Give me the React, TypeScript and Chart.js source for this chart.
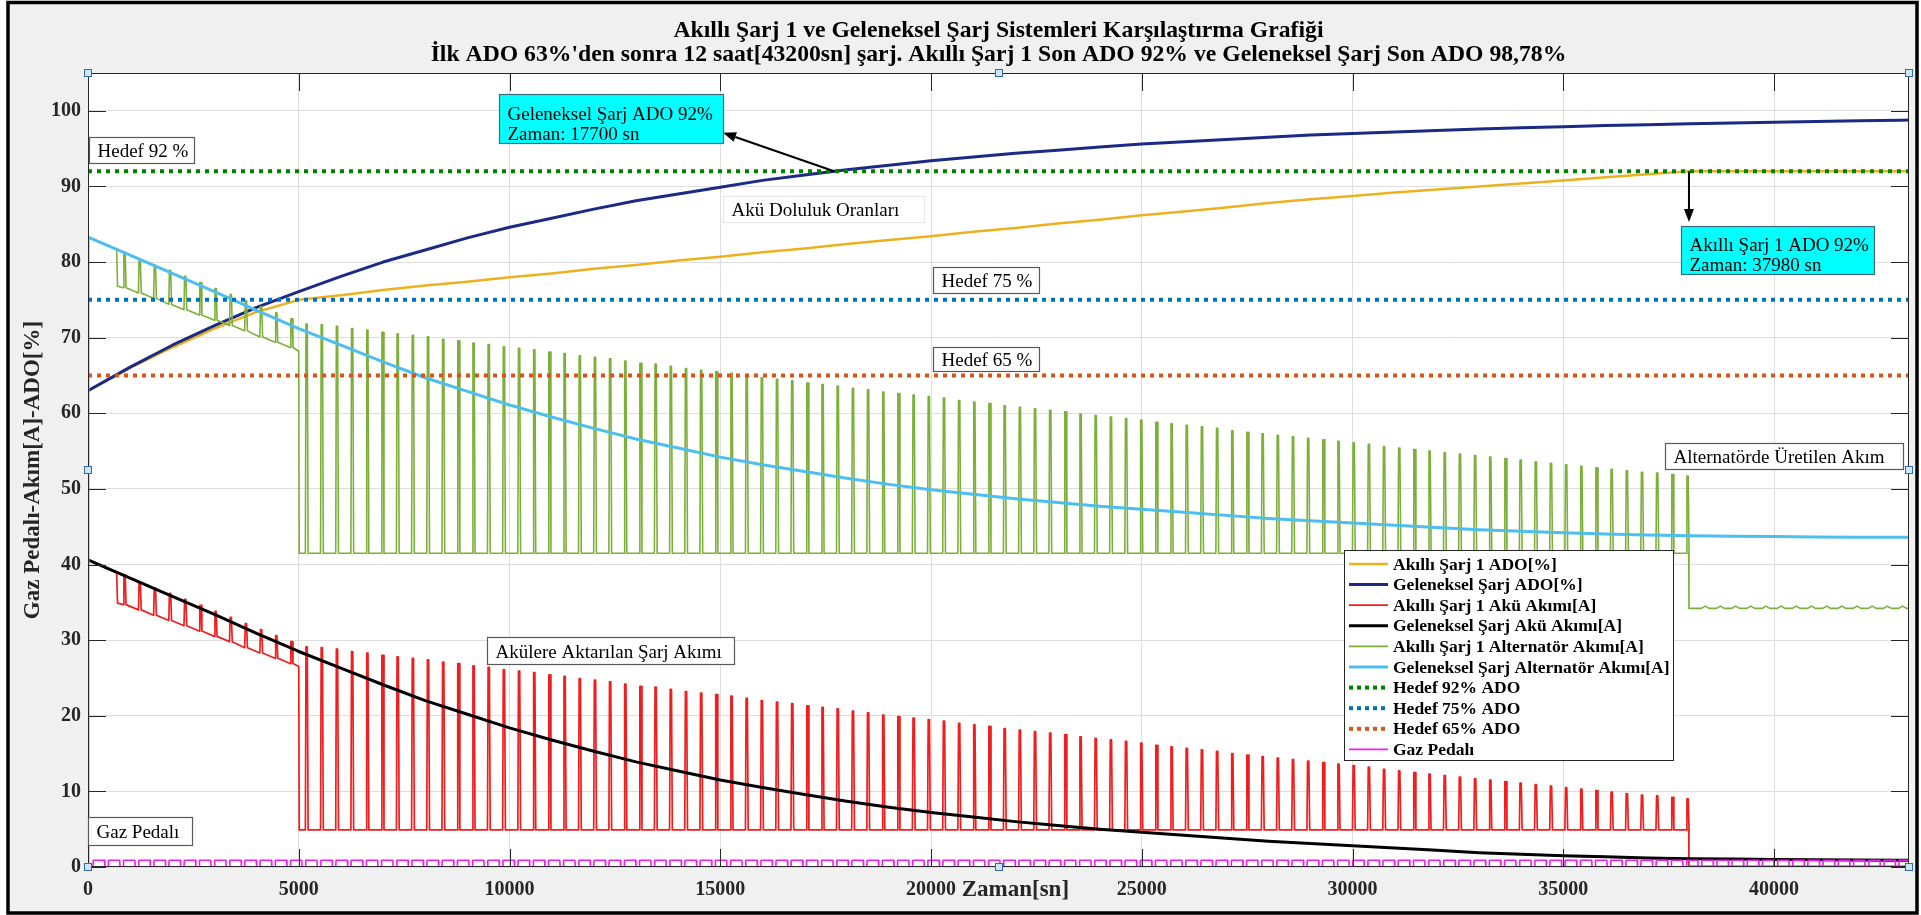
import { useEffect, useRef } from 'react';
import { Chart, registerables } from 'chart.js';

Chart.register(...registerables);

const SERIF = '"Liberation Serif", "Times New Roman", Times, serif';

// ---- axes ----
const xTickValues = [0, 5000, 10000, 15000, 20000, 25000, 30000, 35000, 40000];
const yTickValues = [0, 10, 20, 30, 40, 50, 60, 70, 80, 90, 100];
const X_MAX = 43200;
const Y_MAX = 105;

// ---- smooth curves, sampled every 1000 s ----
const sampleTimes = [
  0, 1000, 2000, 3000, 4000, 5000, 6000, 7000, 8000, 9000, 10000, 11000, 12000, 13000, 14000,
  15000, 16000, 17000, 18000, 19000, 20000, 21000, 22000, 23000, 24000, 25000, 26000, 27000,
  28000, 29000, 30000, 31000, 32000, 33000, 34000, 35000, 36000, 37000, 38000, 39000, 40000,
  41000, 42000, 43000, 43200,
];
// Geleneksel Şarj ADO [%]
const convSoc = [
  63.0, 66.1, 69.0, 71.6, 74.0, 76.1, 78.1, 80.0, 81.6, 83.2, 84.6, 85.8, 87.0, 88.1, 89.0,
  89.9, 90.8, 91.5, 92.2, 92.8, 93.4, 93.9, 94.4, 94.8, 95.2, 95.6, 95.9, 96.2,
  96.5, 96.8, 97.0, 97.2, 97.4, 97.6, 97.75, 97.9, 98.05, 98.15, 98.3, 98.4, 98.5,
  98.6, 98.7, 98.75, 98.78,
];
// Geleneksel Şarj Akü Akımı [A]
const convBatteryCurrent = [
  40.6, 38.2, 35.8, 33.4, 30.9, 28.5, 26.3, 24.1, 22.0, 20.2, 18.4, 16.8, 15.3, 13.9, 12.7,
  11.5, 10.5, 9.6, 8.7, 7.9, 7.2, 6.6, 6.0, 5.5, 5.0, 4.6, 4.2, 3.8,
  3.4, 3.1, 2.8, 2.5, 2.2, 1.9, 1.7, 1.5, 1.35, 1.2, 1.1, 1.05, 1.0,
  0.95, 0.92, 0.9, 0.9,
];
// Geleneksel Şarj Alternatör Akımı [A]
const convAlternatorCurrent = [
  83.3, 80.9, 78.5, 76.1, 73.6, 71.2, 69.0, 66.8, 64.7, 62.9, 61.1, 59.5, 58.0, 56.6, 55.4,
  54.2, 53.2, 52.3, 51.4, 50.6, 49.9, 49.3, 48.7, 48.2, 47.7, 47.3, 46.9, 46.5,
  46.1, 45.8, 45.5, 45.2, 44.9, 44.6, 44.4, 44.2, 44.05, 43.9, 43.8, 43.75, 43.7,
  43.65, 43.62, 43.6, 43.6,
];
// Akıllı Şarj 1 ADO [%]
const smartSocTimes = [
  0, 1000, 2000, 3000, 4000, 5000, 6000, 7000, 8000, 9000, 10000, 11000, 12000, 13000, 14000,
  15000, 16000, 17000, 18000, 19000, 20000, 21000, 22000, 23000, 24000, 25000, 26000, 27000,
  28000, 29000, 30000, 31000, 32000, 33000, 34000, 35000, 36000, 37000, 37980, 39000, 40000,
  41000, 42000, 43000, 43200,
];
const smartSoc = [
  63.0, 66.0, 68.7, 71.2, 73.4, 75.0, 75.6, 76.3, 76.9, 77.4, 78.0, 78.5, 79.1, 79.6, 80.2,
  80.7, 81.3, 81.8, 82.4, 82.9, 83.4, 84.0, 84.5, 85.1, 85.6, 86.2, 86.7, 87.2,
  87.8, 88.3, 88.75, 89.2, 89.6, 90.0, 90.4, 90.8, 91.2, 91.6, 92.0, 92.0, 92.0,
  92.0, 92.0, 92.0, 92.0,
];

// ---- smart charger duty cycle ----
const CYCLE_PERIOD_S = 360;
const FIRST_CYCLE_S = 837;
const PHASE2_START_S = 5000;
const SMART_STOP_S = 37980;
const leadTimes = [0, 680, 700];

// Akıllı Şarj 1 Akü Akımı [A]
const smartBattLead = [40.6, 38.9, 34.9];
const smartBattBase1 = [34.7, 34.0, 33.3, 32.6, 31.9, 31.2, 30.5, 29.8, 29.0, 28.3, 27.6, 26.9];
const smartBattPeak1 = [38.6, 37.7, 36.9, 36.2, 35.4, 34.6, 33.8, 33.0, 32.2, 31.4, 30.6, 29.8];
const smartBattPhase1End = 26.5;
const smartBattBase2 = 4.9;
const smartBattPeak2 = [
  29.1, 29.0, 28.8, 28.5, 28.3, 28.0, 27.8, 27.6, 27.4, 27.1,
  26.9, 26.6, 26.4, 26.1, 25.9, 25.7, 25.4, 25.2, 24.9, 24.7,
  24.5, 24.2, 23.9, 23.8, 23.5, 23.2, 23.0, 22.8, 22.6, 22.3,
  22.0, 21.8, 21.6, 21.3, 21.1, 20.9, 20.6, 20.4, 20.1, 19.9,
  19.7, 19.5, 19.3, 19.0, 18.8, 18.6, 18.3, 18.1, 17.9, 17.7,
  17.5, 17.2, 17.0, 16.8, 16.6, 16.4, 16.1, 15.9, 15.7, 15.5,
  15.3, 15.0, 14.8, 14.6, 14.4, 14.2, 14.0, 13.8, 13.6, 13.4,
  13.2, 12.9, 12.7, 12.5, 12.3, 12.1, 11.9, 11.7, 11.5, 11.3,
  11.1, 10.9, 10.7, 10.5, 10.3, 10.1, 9.9, 9.7, 9.5, 9.4,
  9.2, 9.0,
];
const smartBattIdle = [0.1];

// Akıllı Şarj 1 Alternatör Akımı [A]
const smartAltLead = [83.3, 81.7, 76.8];
const smartAltBase1 = [76.6, 75.9, 75.2, 74.4, 73.7, 73.0, 72.3, 71.6, 70.9, 70.1, 69.4, 68.7];
const smartAltPeak1 = [81.3, 80.4, 79.6, 78.9, 78.1, 77.3, 76.5, 75.7, 74.9, 74.1, 73.3, 72.5];
const smartAltPhase1End = 68.2;
const smartAltBase2 = 41.5;
const smartAltPeak2 = [
  71.8, 71.7, 71.5, 71.2, 71.0, 70.7, 70.5, 70.3, 70.1, 69.8,
  69.6, 69.3, 69.1, 68.8, 68.6, 68.4, 68.1, 67.9, 67.6, 67.4,
  67.2, 66.9, 66.6, 66.5, 66.2, 65.9, 65.7, 65.5, 65.3, 65.0,
  64.7, 64.5, 64.3, 64.0, 63.8, 63.6, 63.3, 63.1, 62.8, 62.6,
  62.4, 62.2, 62.0, 61.7, 61.5, 61.3, 61.0, 60.8, 60.6, 60.4,
  60.2, 59.9, 59.7, 59.5, 59.3, 59.1, 58.8, 58.6, 58.4, 58.2,
  58.0, 57.7, 57.5, 57.3, 57.1, 56.9, 56.7, 56.5, 56.3, 56.1,
  55.9, 55.6, 55.4, 55.2, 55.0, 54.8, 54.6, 54.4, 54.2, 54.0,
  53.8, 53.6, 53.4, 53.2, 53.0, 52.8, 52.6, 52.4, 52.2, 52.1,
  51.9, 51.7,
];
const smartAltIdle = [34.2, 34.5];

// Gaz Pedalı
const GAS_ON = 0.9;
const GAS_OFF = 0;

// Hedef ADO levels [%]
const targetLevels = [92, 75, 65];

type Pt = { x: number; y: number };

const zipPoints = (xs: number[], ys: number[]): Pt[] => xs.map((x, i) => ({ x, y: ys[i] }));

// pulse shape inside one cycle: rise, hold, fall (seconds after cycle start)
const PULSE = [15, 45, 65];

function pulseTrain(
  lead: number[], base1: number[], peak1: number[], phase1End: number,
  base2: number, peak2: number[], idle: number[],
): Pt[] {
  const pts: Pt[] = zipPoints(leadTimes, lead);
  base1.forEach((b, k) => {
    const t = FIRST_CYCLE_S + k * CYCLE_PERIOD_S;
    pts.push({ x: t, y: b }, { x: t + PULSE[0], y: peak1[k] }, { x: t + PULSE[1], y: peak1[k] }, { x: t + PULSE[2], y: b });
  });
  pts.push({ x: PHASE2_START_S, y: phase1End }, { x: PHASE2_START_S + 10, y: base2 });
  peak2.forEach((p, j) => {
    const t = FIRST_CYCLE_S + (base1.length + j) * CYCLE_PERIOD_S;
    pts.push({ x: t, y: base2 }, { x: t + PULSE[0], y: p }, { x: t + PULSE[1], y: p }, { x: t + PULSE[2], y: base2 });
  });
  pts.push({ x: SMART_STOP_S - 5, y: base2 }, { x: SMART_STOP_S, y: idle[0] });
  for (let k = base1.length + peak2.length; ; k++) {
    const t = FIRST_CYCLE_S + k * CYCLE_PERIOD_S;
    if (t + 180 >= X_MAX) break;
    if (idle.length > 1) pts.push({ x: t, y: idle[0] }, { x: t + 90, y: idle[1] }, { x: t + 180, y: idle[0] });
  }
  pts.push({ x: X_MAX, y: idle[0] });
  return pts;
}

// pedal released for a short moment at the start of every cycle
const GAS_RELEASE_S = 85;

function gasPedal(): Pt[] {
  const pts: Pt[] = [{ x: 0, y: GAS_OFF }];
  for (let k = -2; ; k++) {
    const t = FIRST_CYCLE_S + k * CYCLE_PERIOD_S;
    if (t >= X_MAX) break;
    const next = t + CYCLE_PERIOD_S;
    pts.push({ x: t, y: GAS_OFF }, { x: t + 8, y: GAS_ON });
    if (next - GAS_RELEASE_S < X_MAX) {
      pts.push({ x: next - GAS_RELEASE_S, y: GAS_ON }, { x: next - GAS_RELEASE_S + 8, y: GAS_OFF });
    } else {
      pts.push({ x: X_MAX, y: GAS_ON });
    }
  }
  return pts;
}

const line = (label: string, data: Pt[], color: string, width: number, extra: Record<string, unknown> = {}) => ({
  label, data, borderColor: color, backgroundColor: color, borderWidth: width,
  pointRadius: 0, fill: false, tension: 0, borderJoinStyle: 'round', ...extra,
});

const targetLine = (level: number, color: string, label: string) =>
  line(label, [{ x: 0, y: level }, { x: X_MAX, y: level }], color, 4, { borderDash: [4, 5], borderCapStyle: 'butt' });

const datasets = [
  line('Akıllı Şarj 1 ADO[%]', zipPoints(smartSocTimes, smartSoc), '#EDB120', 2.5),
  line('Geleneksel Şarj ADO[%]', zipPoints(sampleTimes, convSoc), '#1B2A84', 3),
  line('Akıllı Şarj 1 Akü Akımı[A]',
    pulseTrain(smartBattLead, smartBattBase1, smartBattPeak1, smartBattPhase1End, smartBattBase2, smartBattPeak2, smartBattIdle),
    '#F01E1E', 1.7),
  line('Geleneksel Şarj Akü Akımı[A]', zipPoints(sampleTimes, convBatteryCurrent), '#000000', 3),
  line('Akıllı Şarj 1 Alternatör Akımı[A]',
    pulseTrain(smartAltLead, smartAltBase1, smartAltPeak1, smartAltPhase1End, smartAltBase2, smartAltPeak2, smartAltIdle),
    '#7DB03A', 1.6),
  line('Geleneksel Şarj Alternatör Akımı[A]', [{ x: 0, y: 0 }, ...zipPoints(sampleTimes, convAlternatorCurrent)], '#4DBEEE', 3),
  targetLine(targetLevels[0], '#008000', 'Hedef 92% ADO'),
  targetLine(targetLevels[1], '#0072BD', 'Hedef 75% ADO'),
  targetLine(targetLevels[2], '#D95319', 'Hedef 65% ADO'),
  line('Gaz Pedalı', gasPedal(), '#F21CF2', 1.6),
].map((d, i) => ({ ...d, order: -i }));

const titleLines = [
  'Akıllı Şarj 1 ve Geleneksel Şarj Sistemleri Karşılaştırma Grafiği',
  "İlk ADO 63%'den sonra 12 saat[43200sn] şarj. Akıllı Şarj 1 Son ADO 92% ve Geleneksel Şarj Son ADO 98,78%",
];
const xTitle = 'Zaman[sn]';
const yTitle = 'Gaz Pedalı-Akım[A]-ADO[%]';

// text boxes placed in data units (x: s, y: value)
const noteBoxes = [
  { lines: ['Hedef 92 %'], x0: 24, x1: 2515, yTop: 96.6, yBot: 93.1, fill: '#ffffff', edge: '#595959' },
  { lines: ['Geleneksel Şarj ADO 92%', 'Zaman: 17700 sn'], x0: 9750, x1: 15065, yTop: 102.2, yBot: 95.8, fill: '#00FFFF', edge: '#3d6b78' },
  { lines: ['Akıllı Şarj 1 ADO 92%', 'Zaman: 37980 sn'], x0: 37790, x1: 42370, yTop: 84.8, yBot: 78.4, fill: '#00FFFF', edge: '#3d6b78' },
  { lines: ['Akü Doluluk Oranları'], x0: 15065, x1: 19830, yTop: 88.8, yBot: 85.3, fill: '#ffffff', edge: '#e6e6e6' },
  { lines: ['Hedef 75 %'], x0: 20046, x1: 22560, yTop: 79.4, yBot: 75.9, fill: '#ffffff', edge: '#595959' },
  { lines: ['Hedef 65 %'], x0: 20046, x1: 22560, yTop: 68.8, yBot: 65.6, fill: '#ffffff', edge: '#595959' },
  { lines: ['Akülere Aktarılan Şarj Akımı'], x0: 9465, x1: 15325, yTop: 30.4, yBot: 26.85, fill: '#ffffff', edge: '#595959' },
  { lines: ['Alternatörde Üretilen Akım'], x0: 37410, x1: 43060, yTop: 56.1, yBot: 52.6, fill: '#ffffff', edge: '#595959' },
  { lines: ['Gaz Pedalı'], x0: 0, x1: 2467, yTop: 6.6, yBot: 2.9, fill: '#ffffff', edge: '#595959' },
];
const noteArrows = [
  { from: [17700, 92], to: [15065, 97.1] },
  { from: [37980, 92], to: [37980, 85.3] },
];

const FRAME = { left: 8, top: 2.5, right: 1917, bottom: 913 };

function drawArrow(ctx: CanvasRenderingContext2D, x1: number, y1: number, x2: number, y2: number) {
  const ang = Math.atan2(y2 - y1, x2 - x1);
  const len = 13;
  const half = 5;
  const bx = x2 - len * Math.cos(ang);
  const by = y2 - len * Math.sin(ang);
  ctx.strokeStyle = '#000';
  ctx.lineWidth = 2;
  ctx.beginPath();
  ctx.moveTo(x1, y1);
  ctx.lineTo(bx, by);
  ctx.stroke();
  ctx.fillStyle = '#000';
  ctx.beginPath();
  ctx.moveTo(x2, y2);
  ctx.lineTo(bx + half * Math.sin(ang), by - half * Math.cos(ang));
  ctx.lineTo(bx - half * Math.sin(ang), by + half * Math.cos(ang));
  ctx.closePath();
  ctx.fill();
}

const decorations = {
  id: 'decorations',
  beforeDraw(chart: any) {
    const { ctx, chartArea: a, width, height } = chart;
    ctx.save();
    ctx.fillStyle = '#ffffff';
    ctx.fillRect(0, 0, width, height);
    ctx.fillStyle = '#f0f0f0';
    ctx.fillRect(FRAME.left, FRAME.top, FRAME.right - FRAME.left, FRAME.bottom - FRAME.top);
    ctx.fillStyle = '#ffffff';
    ctx.fillRect(a.left, a.top, a.right - a.left, a.bottom - a.top);
    ctx.restore();
  },
  afterDatasetsDraw(chart: any) {
    const { ctx, chartArea: a } = chart;
    const xs = chart.scales.x;
    const ys = chart.scales.y;
    ctx.save();

    // axes box and inward tick marks
    ctx.strokeStyle = '#262626';
    ctx.lineWidth = 1;
    ctx.strokeRect(a.left + 0.5, a.top + 0.5, a.right - a.left - 1, a.bottom - a.top - 1);
    const TL = 18;
    ctx.beginPath();
    xTickValues.forEach((v) => {
      const px = Math.round(xs.getPixelForValue(v)) + 0.5;
      ctx.moveTo(px, a.bottom); ctx.lineTo(px, a.bottom - TL);
      ctx.moveTo(px, a.top); ctx.lineTo(px, a.top + TL);
    });
    yTickValues.forEach((v) => {
      const py = Math.round(ys.getPixelForValue(v)) + 0.5;
      ctx.moveTo(a.left, py); ctx.lineTo(a.left + TL, py);
      ctx.moveTo(a.right, py); ctx.lineTo(a.right - TL, py);
    });
    ctx.stroke();

    // arrows
    noteArrows.forEach((ar) => {
      drawArrow(ctx, xs.getPixelForValue(ar.from[0]), ys.getPixelForValue(ar.from[1]),
        xs.getPixelForValue(ar.to[0]), ys.getPixelForValue(ar.to[1]));
    });

    // text boxes
    ctx.font = `19px ${SERIF}`;
    ctx.textAlign = 'left';
    ctx.textBaseline = 'alphabetic';
    noteBoxes.forEach((b) => {
      const x0 = Math.round(xs.getPixelForValue(b.x0)) + 0.5;
      const x1 = Math.round(xs.getPixelForValue(b.x1)) + 0.5;
      const y0 = Math.round(ys.getPixelForValue(b.yTop)) + 0.5;
      const y1 = Math.round(ys.getPixelForValue(b.yBot)) + 0.5;
      ctx.fillStyle = b.fill;
      ctx.fillRect(x0, y0, x1 - x0, y1 - y0);
      ctx.strokeStyle = b.edge;
      ctx.lineWidth = 1.2;
      ctx.strokeRect(x0, y0, x1 - x0, y1 - y0);
      ctx.fillStyle = '#000';
      if (b.lines.length === 1) {
        ctx.fillText(b.lines[0], x0 + 8, (y0 + y1) / 2 + 6.5);
      } else {
        b.lines.forEach((t, i) => {
          ctx.fillText(t, x0 + 8, y1 - 4 - (b.lines.length - 1 - i) * 19.5);
        });
      }
    });

    // legend
    const L = { left: 1344, top: 550, right: 1673, bottom: 760, row0: 564, rowStep: 20.6 };
    ctx.fillStyle = '#ffffff';
    ctx.fillRect(L.left, L.top, L.right - L.left, L.bottom - L.top);
    ctx.strokeStyle = '#262626';
    ctx.lineWidth = 1;
    ctx.strokeRect(L.left + 0.5, L.top + 0.5, L.right - L.left, L.bottom - L.top);
    ctx.font = `bold 17.5px ${SERIF}`;
    ctx.textBaseline = 'middle';
    chart.data.datasets.forEach((d: any, i: number) => {
      const y = L.row0 + i * L.rowStep;
      ctx.save();
      ctx.strokeStyle = d.borderColor;
      ctx.lineWidth = d.borderDash ? 4 : Math.min(d.borderWidth, 3);
      ctx.setLineDash(d.borderDash ? [4, 4] : []);
      ctx.beginPath();
      ctx.moveTo(L.left + 5, y);
      ctx.lineTo(L.left + 44, y);
      ctx.stroke();
      ctx.restore();
      ctx.fillStyle = '#000';
      ctx.fillText(d.label, L.left + 49, y + 1);
    });
    ctx.restore();
  },
  afterDraw(chart: any) {
    const { ctx, chartArea: a } = chart;
    const xs = chart.scales.x;
    ctx.save();

    // titles
    ctx.fillStyle = '#000';
    ctx.textAlign = 'center';
    ctx.textBaseline = 'alphabetic';
    ctx.font = `bold 23.7px ${SERIF}`;
    const cx = (a.left + a.right) / 2;
    ctx.fillText(titleLines[0], cx, 37);
    ctx.fillText(titleLines[1], cx, 61);

    // axis titles
    ctx.fillStyle = '#262626';
    ctx.font = `bold 23px ${SERIF}`;
    ctx.textBaseline = 'middle';
    ctx.fillText(xTitle, xs.getPixelForValue(22000), a.bottom + 23);
    ctx.save();
    ctx.translate(33, (a.top + a.bottom) / 2);
    ctx.rotate(-Math.PI / 2);
    ctx.fillText(yTitle, 0, 0);
    ctx.restore();

    // selection handles
    const mx = (a.left + a.right) / 2;
    const my = (a.top + a.bottom) / 2;
    const handles = [
      [a.left, a.top], [mx, a.top], [a.right, a.top], [a.left, my], [a.right, my],
      [a.left, a.bottom], [mx, a.bottom], [a.right, a.bottom],
    ];
    handles.forEach(([hx, hy]) => {
      ctx.fillStyle = '#cfe5f7';
      ctx.fillRect(Math.round(hx) - 3, Math.round(hy) - 3, 6, 6);
      ctx.strokeStyle = '#2e6db4';
      ctx.lineWidth = 1;
      ctx.strokeRect(Math.round(hx) - 3.5, Math.round(hy) - 3.5, 7, 7);
    });

    // figure frame
    ctx.strokeStyle = '#000';
    ctx.lineWidth = 3.5;
    ctx.strokeRect(FRAME.left, FRAME.top, FRAME.right - FRAME.left, FRAME.bottom - FRAME.top);
    ctx.restore();
  },
};

const tickFont = { family: '"Liberation Serif", "Times New Roman", serif', size: 20, weight: 'bold' as const };

export default function App() {
  const ref = useRef<HTMLCanvasElement>(null);

  useEffect(() => {
    const canvas = ref.current;
    if (!canvas) return;
    const chart = new Chart(canvas, {
      type: 'line',
      data: { datasets: datasets as any },
      options: {
        animation: false,
        responsive: false,
        devicePixelRatio: 1,
        events: [],
        layout: { padding: { left: 0, right: 12, top: 73, bottom: 0 } },
        plugins: {
          legend: { display: false },
          tooltip: { enabled: false },
          title: { display: false },
        },
        scales: {
          x: {
            type: 'linear',
            min: 0,
            max: X_MAX,
            afterBuildTicks: (s: any) => { s.ticks = xTickValues.map((value) => ({ value })); },
            afterFit: (s: any) => { s.height = 48; },
            grid: { color: '#dedede', lineWidth: 1, drawTicks: false },
            border: { display: false },
            ticks: {
              font: tickFont, color: '#262626', padding: 11, maxRotation: 0, autoSkip: false,
              callback: (v: any) => String(v),
            },
          },
          y: {
            type: 'linear',
            min: 0,
            max: Y_MAX,
            afterBuildTicks: (s: any) => { s.ticks = yTickValues.map((value) => ({ value })); },
            afterFit: (s: any) => { s.width = 88; },
            grid: { color: '#dedede', lineWidth: 1, drawTicks: false },
            border: { display: false },
            ticks: {
              font: tickFont, color: '#262626', padding: 7, autoSkip: false,
              callback: (v: any) => String(v),
            },
          },
        },
      },
      plugins: [decorations],
    } as any);
    return () => chart.destroy();
  }, []);

  return (
    <div style={{ position: 'absolute', left: 0, top: 0, width: 1921, height: 915, background: '#fff' }}>
      <canvas ref={ref} width={1921} height={915} style={{ display: 'block', width: 1921, height: 915 }} />
    </div>
  );
}
